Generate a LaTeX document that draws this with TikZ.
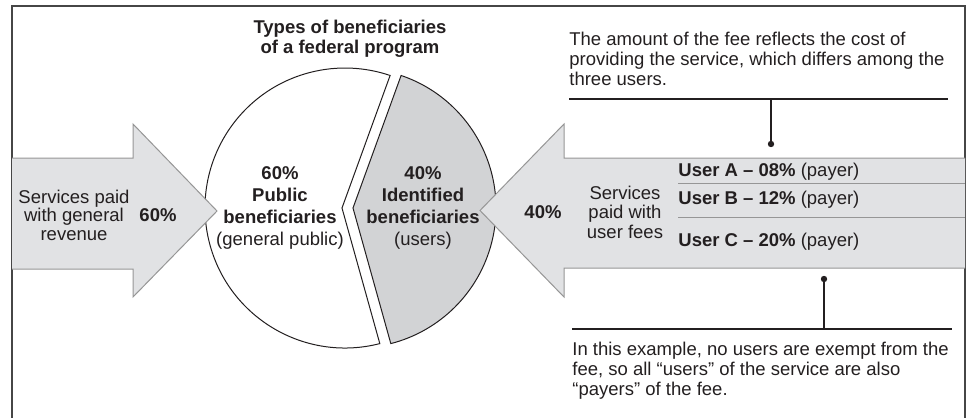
\documentclass[tikz,border=0pt]{standalone}
\usepackage{fontspec}
\setmainfont{Liberation Sans}
\usetikzlibrary{calc}
\definecolor{ink}{RGB}{35,31,32}
\definecolor{arrowfill}{RGB}{225,226,228}
\definecolor{arrowline}{RGB}{150,150,150}
\definecolor{slicegray}{RGB}{210,211,213}
\definecolor{framec}{RGB}{70,70,70}
\begin{document}
\begin{tikzpicture}[x=0.5pt,y=-0.5pt,
  txt/.style={inner sep=0pt, text=ink, font=\fontsize{9.25}{10}\selectfont},
  bigarrow/.style={fill=arrowfill, draw=arrowline, line width=0.5pt, line join=miter},
  slice/.style={draw=ink, line width=0.5pt, line join=miter},
  sepline/.style={draw=arrowline, line width=0.5pt},
  rule/.style={draw=ink, line width=0.6pt}]
\useasboundingbox (0,0) rectangle (970,418);
% frame
\draw[framec, line width=0.6pt] (12,420) -- (12,6) -- (965,6) -- (965,420);
% pie
\coordinate (W) at (345,208);
\coordinate (G) at (356,208);
\filldraw[slice, fill=white] ($(W)+(-75.6:70pt)$) arc[start angle=-75.6, end angle=-288.8, radius=70pt] -- (342,208) -- cycle;
\filldraw[slice, fill=slicegray] ($(G)+(71.2:70pt)$) arc[start angle=71.2, end angle=-75.6, radius=70pt] -- (353,208) -- cycle;
% arrows
\path[bigarrow] (12,158) -- (133,158) -- (133,124) -- (217,211) -- (133,297) -- (133,269) -- (12,269);
\path[bigarrow] (965,158) -- (564,158) -- (564,124) -- (480,210.5) -- (564,297) -- (564,268) -- (965,268);
\draw[sepline] (678,183) -- (965,183);
\draw[sepline] (678,217) -- (965,217);
% texts
\node[txt, align=center, font=\bfseries\fontsize{9.25}{10}\selectfont] (title) at (350,39) {Types of beneficiaries\\of a federal program};
\node[txt, align=center, font=\fontsize{9.25}{9.25}\selectfont] (gen) at (74,215) {Services paid\\with general\\revenue};
\node[txt, font=\bfseries\fontsize{9.25}{10}\selectfont] (gen60) at (158,215) {60\%};
\node[txt, align=center, font=\fontsize{9.25}{11}\selectfont] (pub) at (280,207.5) {\textbf{60\%}\\\textbf{Public}\\\textbf{beneficiaries}\\(general public)};
\node[txt, align=center, font=\fontsize{9.25}{11}\selectfont] (ident) at (423,207.5) {\textbf{40\%}\\\textbf{Identified}\\\textbf{beneficiaries}\\(users)};
\node[txt, font=\bfseries\fontsize{9.25}{10}\selectfont] (fee40) at (543,212) {40\%};
\node[txt, align=center, font=\fontsize{9.25}{9.75}\selectfont] (fees) at (625,212) {Services\\paid with\\user fees};
\node[txt, anchor=west] (ua) at (678,172) {\textbf{User A -- 08\%} (payer)};
\node[txt, anchor=west] (ub) at (678,200) {\textbf{User B -- 12\%} (payer)};
\node[txt, anchor=west] (uc) at (678,242) {\textbf{User C -- 20\%} (payer)};
\node[txt, align=left, anchor=north west] (note1) at (569,31.5) {The amount of the fee reflects the cost of\\providing the service, which differs among the\\three users.};
\node[txt, align=left, anchor=north west] (note2) at (572,341.5) {In this example, no users are exempt from the\\fee, so all “users” of the service are also\\“payers” of the fee.};
% callouts
\coordinate (r1a) at (569,99);
\coordinate (r1b) at (948,99);
\coordinate (r1m) at (771,99);
\coordinate (d1) at (771,144);
\draw[rule] (r1a) -- (r1b);
\draw[rule] (r1m) -- (d1);
\fill[ink] (d1) circle (3.2);
\coordinate (r2a) at (572,329);
\coordinate (r2b) at (952,329);
\coordinate (r2m) at (824,329);
\coordinate (d2) at (824,279);
\draw[rule] (r2a) -- (r2b);
\draw[rule] (r2m) -- (d2);
\fill[ink] (d2) circle (3.2);
\end{tikzpicture}
\end{document}
